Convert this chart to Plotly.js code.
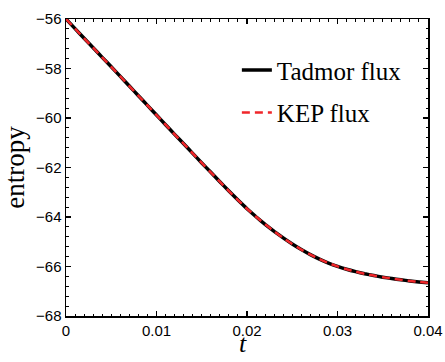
<!DOCTYPE html>
<html>
<head>
<meta charset="utf-8">
<script src="https://cdn.plot.ly/plotly-3.0.1.min.js"></script>
<style>html,body{margin:0;padding:0;background:#fff;}#chart{width:445px;height:362px;}</style>
</head>
<body>
<div id="chart"></div>
<script>
const tValues = [0, 0.001, 0.002, 0.003, 0.004, 0.005, 0.006, 0.007, 0.008, 0.009, 0.010,
                 0.011, 0.012, 0.013, 0.014, 0.015, 0.016, 0.017, 0.018, 0.019, 0.020,
                 0.021, 0.022, 0.023, 0.024, 0.025, 0.026, 0.027, 0.028, 0.029, 0.030,
                 0.031, 0.032, 0.033, 0.034, 0.035, 0.036, 0.037, 0.038, 0.039, 0.040];
const tadmorEntropy = [-56.00, -56.39, -56.78, -57.16, -57.55, -57.93, -58.32, -58.71, -59.10, -59.49, -59.88,
                       -60.27, -60.66, -61.04, -61.43, -61.815, -62.195, -62.575, -62.95, -63.315, -63.665,
                       -63.99, -64.295, -64.58, -64.845, -65.09, -65.315, -65.52, -65.70, -65.86, -65.995,
                       -66.11, -66.207, -66.292, -66.366, -66.431, -66.488, -66.538, -66.582, -66.622, -66.658];
const kepEntropy = [-56.00, -56.39, -56.78, -57.16, -57.55, -57.93, -58.32, -58.71, -59.10, -59.49, -59.88,
                    -60.27, -60.66, -61.04, -61.43, -61.815, -62.195, -62.575, -62.95, -63.315, -63.665,
                    -63.99, -64.295, -64.58, -64.845, -65.09, -65.315, -65.52, -65.70, -65.86, -65.995,
                    -66.11, -66.207, -66.292, -66.366, -66.431, -66.488, -66.538, -66.582, -66.622, -66.658];
const seriesNames = ["Tadmor flux", "KEP flux"];
const xTickVals = [0, 0.01, 0.02, 0.03, 0.04];
const xTickText = ["0", "0.01", "0.02", "0.03", "0.04"];
const yTickVals = [-68, -66, -64, -62, -60, -58, -56];
const yTickText = ["\u221268", "\u221266", "\u221264", "\u221262", "\u221260", "\u221258", "\u221256"];
const xTitle = "t";
const yTitle = "entropy";

const traces = [
  {x: tValues, y: tadmorEntropy, name: seriesNames[0], type: "scatter", mode: "lines",
   line: {color: "#000000", width: 3.5, shape: "spline", smoothing: 0.4}, legendgroup: "a"},
  {x: tValues, y: kepEntropy, name: seriesNames[1], type: "scatter", mode: "lines",
   line: {color: "rgb(240,38,42)", width: 2.5, dash: "8px,5px", shape: "spline", smoothing: 0.4}, legendgroup: "b"}
];

const axisCommon = {
  showgrid: false, zeroline: false, showline: true, linecolor: "#000", linewidth: 1.5,
  mirror: "ticks", ticks: "inside", ticklen: 5, tickwidth: 1.2, tickcolor: "#000",
  tickfont: {family: "Liberation Sans, Arial, sans-serif", size: 15, color: "#000"}
};

const layout = {
  width: 445, height: 362,
  margin: {l: 66, r: 17, t: 19, b: 46},
  paper_bgcolor: "#fff", plot_bgcolor: "#fff",
  showlegend: true,
  legend: {x: 0.472, y: 0.905, xanchor: "left", yanchor: "top", bgcolor: "rgba(0,0,0,0)",
           borderwidth: 0, tracegroupgap: 7, traceorder: "grouped",
           font: {family: "Liberation Serif, Times New Roman, serif", size: 25, color: "#000"}},
  xaxis: Object.assign({}, axisCommon, {
    range: [0, 0.04], tickmode: "array", tickvals: xTickVals, ticktext: xTickText,
    minor: {dtick: 0.001, ticks: "inside", ticklen: 2.5, tickwidth: 1, tickcolor: "#000", showgrid: false}
  }),
  yaxis: Object.assign({}, axisCommon, {
    range: [-68, -56], tickmode: "array", tickvals: yTickVals, ticktext: yTickText,
    minor: {dtick: 0.4, ticks: "inside", ticklen: 2.5, tickwidth: 1, tickcolor: "#000", showgrid: false},
    title: {text: yTitle, standoff: 6, font: {family: "Liberation Serif, Times New Roman, serif", size: 27, color: "#000"}}
  }),
  annotations: [
    {text: xTitle, xref: "paper", yref: "paper", x: 0.49, y: 0, xanchor: "center", yanchor: "middle",
     yshift: -27, showarrow: false,
     font: {family: "Liberation Serif, Times New Roman, serif", size: 26, color: "#000", style: "italic"}}
  ]
};

Plotly.newPlot("chart", traces, layout, {displayModeBar: false, staticPlot: true});
</script>
</body>
</html>
